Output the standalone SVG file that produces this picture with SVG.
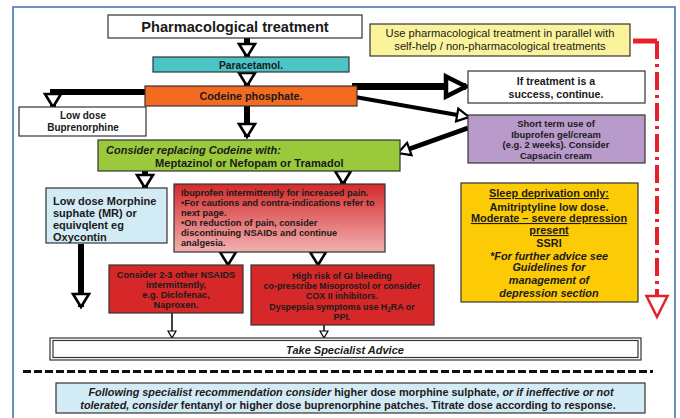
<svg xmlns="http://www.w3.org/2000/svg" width="680" height="418" viewBox="0 0 680 418">
<defs>
<style>
text{font-family:"Liberation Sans",Arial,sans-serif;fill:#1a1a1a;}
.b{font-weight:bold;}
.i{font-style:italic;}
.c{text-anchor:middle;}
.box{stroke:#333;stroke-width:1.2;}
.sh{stroke:#000;fill:none;}
.u{text-decoration:underline;}
</style>
<linearGradient id="gRed" x1="0" y1="0" x2="0" y2="1">
<stop offset="0" stop-color="#D42A2A"/>
<stop offset="1" stop-color="#F2B0B0"/>
</linearGradient>
<marker id="hBig" markerUnits="userSpaceOnUse" viewBox="-3 -11 20 22" markerWidth="20" markerHeight="22" refX="13" refY="0" orient="auto" overflow="visible">
<path d="M0,-8 L13,0 L0,8 Z" fill="#fff" stroke="#000" stroke-width="2.6" stroke-linejoin="miter"/>
</marker>
<marker id="hHuge" markerUnits="userSpaceOnUse" viewBox="-4 -14 28 28" markerWidth="28" markerHeight="28" refX="20" refY="0" orient="auto" overflow="visible">
<path d="M0,-10 L20,0 L0,10 Z" fill="#fff" stroke="#000" stroke-width="4.5"/>
</marker>
<marker id="hMid" markerUnits="userSpaceOnUse" viewBox="-3 -9 17 18" markerWidth="17" markerHeight="18" refX="12" refY="0" orient="auto" overflow="visible">
<path d="M0,-6.5 L12,0 L0,6.5 Z" fill="#fff" stroke="#000" stroke-width="2.2"/>
</marker>
<marker id="hSmall" markerUnits="userSpaceOnUse" viewBox="-2 -6 10 12" markerWidth="10" markerHeight="12" refX="7" refY="0" orient="auto" overflow="visible">
<path d="M0,-4 L7,0 L0,4 Z" fill="#fff" stroke="#000" stroke-width="1.2"/>
</marker>
<marker id="hRed" markerUnits="userSpaceOnUse" viewBox="-3 -14 26 28" markerWidth="26" markerHeight="28" refX="21" refY="0" orient="auto" overflow="visible">
<path d="M0,-10.5 L21,0 L0,10.5 Z" fill="#fff" stroke="#E8202A" stroke-width="2.5"/>
</marker>
</defs>
<rect x="0" y="0" width="680" height="418" fill="#fff"/>
<rect x="13" y="7" width="662" height="430" fill="none" stroke="#3A6FB3" stroke-width="1.5"/>

<g id="connectors">
<path class="sh" stroke-width="6" d="M247,38 V57" marker-end="url(#hBig)"/>
<path class="sh" stroke-width="6" d="M247,72 V86" marker-end="url(#hBig)"/>
<path class="sh" stroke-width="6" d="M145,92 H53 V107" marker-end="url(#hBig)"/>
<path class="sh" stroke-width="6" d="M247,106 V137" marker-end="url(#hBig)"/>
<path class="sh" stroke-width="7" d="M352,86.5 H466" marker-end="url(#hHuge)"/>
<path class="sh" stroke-width="4" d="M355,97 L469,117" marker-end="url(#hMid)"/>
<path class="sh" stroke-width="5" d="M468,128 L398,153" marker-end="url(#hMid)"/>
<path class="sh" stroke-width="6" d="M145,171 V188" marker-end="url(#hBig)"/>
<path class="sh" stroke-width="6" d="M343,171 V184" marker-end="url(#hBig)"/>
<path class="sh" stroke-width="6" d="M81,244 V307" marker-end="url(#hBig)"/>
<path class="sh" stroke-width="4" d="M228,252 V265" marker-end="url(#hBig)"/>
<path class="sh" stroke-width="4" d="M318,252 V265" marker-end="url(#hBig)"/>
<path class="sh" stroke-width="1.5" d="M172,313 V338" marker-end="url(#hSmall)"/>
<path class="sh" stroke-width="1.5" d="M324,325 V338" marker-end="url(#hSmall)"/>
<path d="M633,41 H657" stroke="#E8202A" stroke-width="5" fill="none"/>
<path d="M657,41 V317" stroke="#E8202A" stroke-width="4" fill="none" stroke-dasharray="18 5 3 5" marker-end="url(#hRed)"/>
</g>

<g id="n-title">
<rect class="box" x="108" y="15" width="254" height="23" fill="#fff"/>
<text class="b c" x="235" y="31.5" font-size="14.6">Pharmacological treatment</text>
</g>
<g id="n-note">
<rect class="box" x="370" y="24" width="260" height="32" fill="#FBF39B"/>
<text class="c" x="500" y="37" font-size="11.2">Use pharmacological treatment in parallel with</text>
<text class="c" x="500" y="50" font-size="11.2">self-help / non-pharmacological treatments</text>
</g>
<g id="n-paracetamol">
<rect class="box" x="153" y="57" width="196" height="15" fill="#4BC4C6"/>
<text class="b c" x="251" y="68.5" font-size="10.3">Paracetamol.</text>
</g>
<g id="n-codeine">
<rect class="box" x="145" y="86" width="212" height="20" fill="#F26B21"/>
<text class="b c" x="251" y="100" font-size="10.8">Codeine phosphate.</text>
</g>
<g id="n-bupre">
<rect class="box" x="19" y="107" width="127" height="29" fill="#fff"/>
<text class="b c" x="83" y="119" font-size="10">Low dose</text>
<text class="b c" x="83" y="131" font-size="10">Buprenorphine</text>
</g>
<g id="n-success">
<rect class="box" x="468" y="71" width="177" height="32" fill="#fff"/>
<text class="b c" x="556" y="85" font-size="10.6">If treatment is a</text>
<text class="b c" x="556" y="97.5" font-size="10.6">success, continue.</text>
</g>
<g id="n-gel">
<rect class="box" x="468" y="115" width="177" height="48" fill="#B89BCB"/>
<text class="b c" x="556" y="127" font-size="9.4">Short term use of</text>
<text class="b c" x="556" y="137.5" font-size="9.4">Ibuprofen gel/cream</text>
<text class="b c" x="556" y="148" font-size="9.4">(e.g. 2 weeks). Consider</text>
<text class="b c" x="556" y="158.5" font-size="9.4">Capsacin cream</text>
</g>
<g id="n-replace">
<rect class="box" x="98" y="140" width="302" height="31" fill="#9ACA3C"/>
<text class="b i" x="106" y="154" font-size="11">Consider replacing Codeine with:</text>
<text class="b" x="155" y="166.5" font-size="11.1">Meptazinol or Nefopam or Tramadol</text>
</g>
<g id="n-morphine">
<rect class="box" x="46" y="188" width="121" height="55" fill="#D3EBF4"/>
<text class="b" x="53" y="205" font-size="11">Low dose Morphine</text>
<text class="b" x="53" y="217" font-size="11">suphate (MR) or</text>
<text class="b" x="53" y="229" font-size="11">equivqlent eg</text>
<text class="b" x="53" y="241" font-size="11">Oxycontin</text>
</g>
<g id="n-ibuprofen">
<rect class="box" x="174" y="184" width="211" height="68" fill="url(#gRed)"/>
<text class="b" x="181" y="196" font-size="9.2">Ibuprofen intermittently for increased pain.</text>
<text class="b" x="181" y="206" font-size="9.2">•For cautions and contra-indications refer to</text>
<text class="b" x="181" y="216" font-size="9.2">next page.</text>
<text class="b" x="181" y="226" font-size="9.2">•On reduction of pain, consider</text>
<text class="b" x="181" y="236" font-size="9.2">discontinuing NSAIDs and continue</text>
<text class="b" x="181" y="246" font-size="9.2">analgesia.</text>
</g>
<g id="n-nsaids">
<rect class="box" x="109" y="265" width="134" height="48" fill="#D62828"/>
<text class="b c" x="176" y="278" font-size="9.2">Consider 2-3 other NSAIDS</text>
<text class="b c" x="176" y="288" font-size="9.2">intermittently,</text>
<text class="b c" x="176" y="298" font-size="9.2">e.g. Diclofenac,</text>
<text class="b c" x="176" y="308" font-size="9.2">Naproxen.</text>
</g>
<g id="n-gi">
<rect class="box" x="251" y="265" width="183" height="60" fill="#D62828"/>
<text class="b c" x="342" y="278.5" font-size="8.9">High risk of GI bleeding</text>
<text class="b c" x="342" y="288.5" font-size="8.9">co-prescribe Misoprostol or consider</text>
<text class="b c" x="342" y="298.5" font-size="8.9">COX II inhibitors.</text>
<text class="b c" x="342" y="309.5" font-size="8.9">Dyspepsia symptoms use H<tspan font-size="6.5" dy="2">2</tspan><tspan dy="-2">RA or</tspan></text>
<text class="b c" x="342" y="320" font-size="8.9">PPI.</text>
</g>
<g id="n-sleep">
<rect class="box" x="461" y="183" width="177" height="119" fill="#FCCB05"/>
<text class="b c u" x="549" y="197" font-size="10.9">Sleep deprivation only:</text>
<text class="b c" x="549" y="211" font-size="10.9">Amitriptyline low dose.</text>
<text class="b c u" x="549" y="222" font-size="10.9">Moderate – severe depression</text>
<text class="b c u" x="549" y="234" font-size="10.9">present</text>
<text class="b c" x="549" y="247" font-size="10.9">SSRI</text>
<text class="b i c" x="549" y="260" font-size="10.9">*For further advice see</text>
<text class="b i c" x="549" y="271" font-size="10.9">Guidelines for</text>
<text class="b i c" x="549" y="284" font-size="10.9">management of</text>
<text class="b i c" x="549" y="297" font-size="10.9">depression section</text>
</g>
<g id="n-specialist">
<rect x="50" y="338" width="591" height="22" fill="#fff" stroke="#333" stroke-width="1.2"/>
<rect x="53" y="340.5" width="585" height="17" fill="none" stroke="#333" stroke-width="1.2"/>
<text class="b i c" x="345" y="353.5" font-size="11">Take Specialist Advice</text>
</g>
<path d="M23,371.5 H653" stroke="#111" stroke-width="3" stroke-dasharray="8 3" fill="none"/>
<g id="n-following">
<rect class="box" x="56" y="383" width="589" height="30" fill="#D3EBF4"/>
<text class="b c" x="351" y="396" font-size="10.9"><tspan class="i">Following specialist recommendation consider</tspan> higher dose morphine sulphate, <tspan class="i">or if ineffective or not</tspan></text>
<text class="b c" x="348" y="409" font-size="10.9"><tspan class="i">tolerated, consider</tspan> fentanyl or higher dose buprenorphine patches. Titrate dose according to response.</text>
</g>
</svg>
